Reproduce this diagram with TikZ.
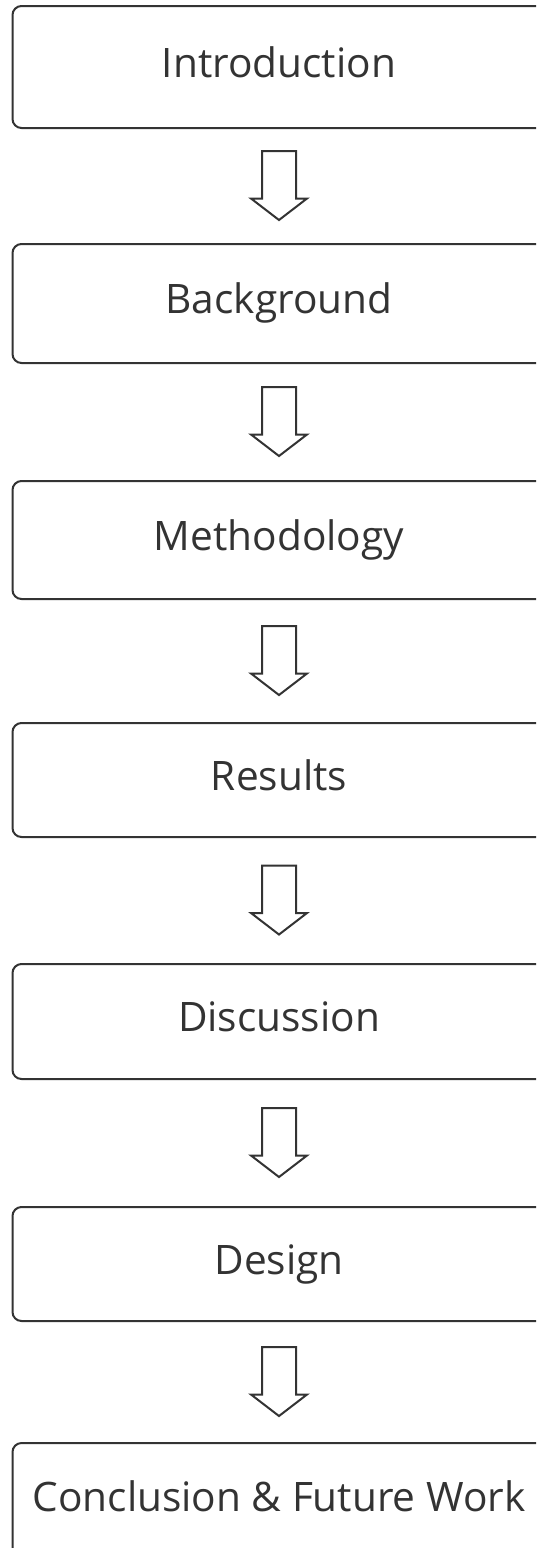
\documentclass[tikz,border=0pt]{standalone}
\usepackage{fontspec}
\setmainfont{Open Sans}
\usetikzlibrary{calc}

\definecolor{boxline}{HTML}{333333}
\definecolor{labeltext}{HTML}{333333}

\tikzset{
  sectionbox/.style={draw=boxline, line width=2pt, rounded corners=9pt,
    minimum width=533pt, inner sep=0pt, anchor=north, text=labeltext,
    font=\fontsize{40.6}{48}\selectfont, text height=28pt, text depth=8pt},
  flowarrow/.style={draw=boxline, line width=2pt, line join=miter},
}

% hollow block arrow halfway between two boxes
\newcommand{\blockarrow}[2]{%
  \path ($(#1.south)!0.5!(#2.north)$) coordinate (mid);
  \draw[flowarrow] ($(mid)+(-17,35)$) -- ++(0,-47.5) -- ++(-11,0)
    -- ++(28,-21.5) -- ++(28,21.5) -- ++(-11,0) -- ++(0,47.5) -- cycle;
}

\begin{document}
\begin{tikzpicture}[x=1pt, y=1pt]
    \useasboundingbox (0,0) rectangle (536,-1548);
    \clip (0,0) rectangle (536,-1548);

    % Boxes
    \node[sectionbox, minimum height=122pt] (intro)   at (279,-5)    {Introduction};
    \node[sectionbox, minimum height=119pt] (backgr)  at (279,-243)  {Background};
    \node[sectionbox, minimum height=118pt] (method)  at (279,-480)  {Methodology};
    \node[sectionbox, minimum height=114pt] (results) at (279,-722)  {Results};
    \node[sectionbox, minimum height=115pt] (discuss) at (279,-963)  {Discussion};
    \node[sectionbox, minimum height=114pt] (design)  at (279,-1206) {Design};
    \node[sectionbox, minimum height=116pt] (concl)   at (279,-1442) {Conclusion \& Future Work};

    % Arrows
    \blockarrow{intro}{backgr}
    \blockarrow{backgr}{method}
    \blockarrow{method}{results}
    \blockarrow{results}{discuss}
    \blockarrow{discuss}{design}
    \blockarrow{design}{concl}
\end{tikzpicture}
\end{document}
